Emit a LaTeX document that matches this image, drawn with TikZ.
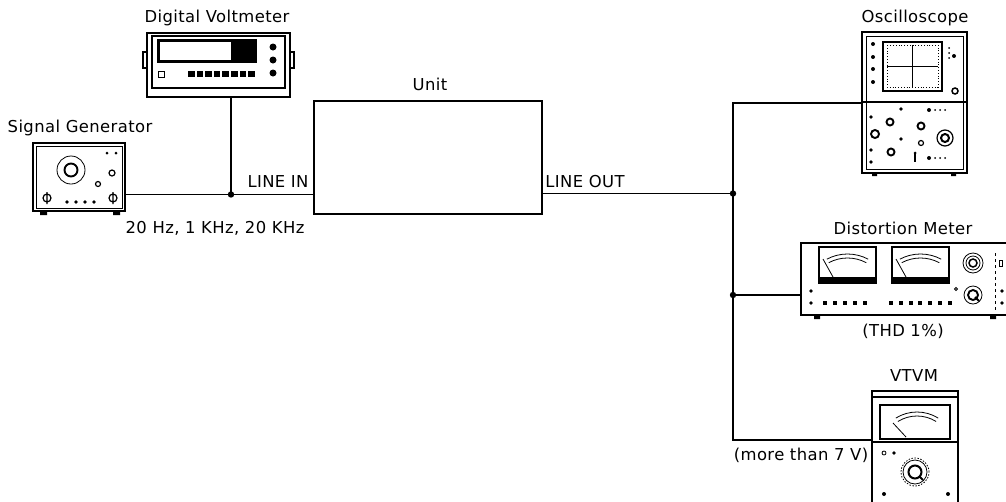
\documentclass[tikz,border=0pt]{standalone}
\usepackage{fontspec}
\setmainfont{DejaVu Sans}[LetterSpace=2.5]
\usetikzlibrary{positioning,calc}

\begin{document}
\begin{tikzpicture}[x=1pt,y=-1pt,
 	every node/.style={font=\fontsize{16.4}{18}\selectfont, inner sep=0pt},
 	wire/.style={line width=1.3pt},
 	case/.style={draw, line width=2pt, fill=white},
 	fine/.style={line width=0.8pt},
 	mid/.style={line width=1.2pt},
 	bold/.style={line width=1.9pt}]
 	\useasboundingbox (0,0) rectangle (1006,501);
 	% boxes
 	\node[case, minimum width=228pt, minimum height=113pt] (unit) at (428,157.5) {};
 	\node[case, minimum width=143pt, minimum height=64pt] (dvm) at (218.5,65) {};
 	\node[case, minimum width=92pt, minimum height=68pt] (siggen) at (79,177) {};
 	\node[case, minimum width=105pt, minimum height=141pt] (scope) at (914.5,102.5) {};
 	\node[case, minimum width=212pt, minimum height=72pt] (distm) at (907,279) {};
 	\node[case, minimum width=86pt, minimum height=120pt] (vtvm) at (915,451) {};
 	% wiring
 	\coordinate (jin) at (231,194.5);
 	\coordinate (jout) at (733,193.5);
 	\coordinate (jtop) at (733,103);
 	\coordinate (jdm) at (733,295);
 	\coordinate (jbot) at (733,440);
 	\draw[wire] (siggen.east |- jin) -- (jin) -- (unit.west |- jin);
 	\draw[wire] (jin |- dvm.south) -- (jin);
 	\draw[wire] (unit.east |- jout) -- (jout);
 	\draw[wire] (scope.west |- jtop) -| (jbot) -- (vtvm.west |- jbot);
 	\draw[wire] (jdm) -- (distm.west |- jdm);
 	\foreach \j in {jin,jout,jdm} \fill (\j) circle[radius=3.2pt];
 	% digital voltmeter
 	\draw[mid] (152,36) rectangle (285,88);
 	\draw[mid] (143,52) rectangle (147,68) (290,52) rectangle (294,68);
 	\fill (157,39) rectangle (257,63);
 	\fill[white] (160,42) rectangle (231,60);
 	\foreach \y in {47,60,73} \fill (273,\y) circle[radius=3.5pt];
 	\draw[fine] (158,71) rectangle (164,77);
 	\foreach \i in {0,...,7} \fill ({188+8.6*\i},71) rectangle +(6.5,6);
 	% signal generator
 	\draw[fine] (36,146) rectangle (122,208);
 	\fill (40,211) rectangle (47,215) (113,211) rectangle (120,215);
 	\draw[fine] (71,170) circle[radius=14pt];
 	\draw[bold] (71,170) circle[radius=6.5pt];
 	\draw[mid] (98,184) circle[radius=2.5pt] (112,173) circle[radius=3pt];
 	\fill (107,153) circle[radius=1.5pt] (116,153) circle[radius=1.5pt];
 	\foreach \x in {47,113} \draw[mid] (\x,198) circle[radius=4pt] (\x,192) -- (\x,204);
 	\foreach \x in {67,76,85,94} \fill (\x,202) circle[radius=1.8pt];
 	% oscilloscope
 	\draw[fine] (866,36) rectangle (963,169);
 	\draw[line width=1.5pt] (862,102) -- (967,102);
 	\draw[bold] (883,42) rectangle (942,91);
 	\draw[fine, dotted] (887,45) rectangle (938,87);
 	\draw[fine] (912.5,45) -- (912.5,87) (887,66) -- (938,66);
 	\foreach \y in {44,57,69,82} \fill (873,\y) circle[radius=2pt];
 	\foreach \y in {48,53,58} \fill (949,\y) circle[radius=1pt];
 	\fill (954,56) circle[radius=2pt];
 	\draw[line width=1.5pt] (955,91) circle[radius=3pt];
 	\foreach \p in {(890,122),(891,152),(921,126)} \draw[bold] \p circle[radius=3.5pt];
 	\draw[bold] (875,134) circle[radius=4pt];
 	\draw[mid] (921,143) circle[radius=2.5pt];
 	\draw[mid] (945,138) circle[radius=8pt];
 	\draw[line width=2pt] (945,138) circle[radius=4pt];
 	\foreach \p in {(871,117),(871,150),(871,162),(901,109),(901,139)} \fill \p circle[radius=1.8pt];
 	\foreach \y in {110,158} {
 		\fill (929,\y) circle[radius=2pt];
 		\foreach \x in {935,940,945} \fill (\x,\y) circle[radius=1pt];
 	}
 	\draw[mid] (915,153) -- (915,162);
 	\fill (915,153) circle[radius=1.5pt];
 	\fill (872,173) rectangle (877,176) (951,173) rectangle (956,176);
 	% distortion meter
 	\foreach \x in {819,892} {
 		\draw[mid] (\x,247) rectangle +(57,36);
 		\fill (\x,277) rectangle +(57,6);
 		\draw[fine] ([shift={(118:44pt)}]\x+28.5,298) arc[start angle=118, end angle=62, radius=44pt];
 		\draw[fine] ([shift={(118:40pt)}]\x+28.5,298) arc[start angle=118, end angle=62, radius=40pt];
 		\draw[fine] (\x+14,277) -- (\x+4,259);
 	}
 	\draw[fine] (973,263) circle[radius=10pt] (973,263) circle[radius=7pt];
 	\draw[line width=1.5pt] (973,263) circle[radius=4pt];
 	\draw[fine] (973,295) circle[radius=9pt];
 	\draw[bold] (973,295) circle[radius=5pt];
 	\draw[bold] (975,297) -- (979,301);
 	\draw[fine] (956,289) circle[radius=1.5pt];
 	\draw[fine, dashed] (995,253) -- (995,310);
 	\draw[fine] (999,260) rectangle (1002,266);
 	\foreach \p in {(811,291),(811,303),(1002,291),(1002,303)} \fill \p circle[radius=1.8pt];
 	\foreach \i in {0,...,4} \fill ({825+10*\i-2},301) rectangle +(4,4);
 	\foreach \i in {0,...,6} \fill ({891+9.8*\i-2},301) rectangle +(4,4);
 	\fill (814,315) rectangle (820,319) (990,315) rectangle (996,319);
 	% vtvm
 	\draw[mid] (872,397) -- (958,397);
 	\draw[bold] (880,405) rectangle (950,439);
 	\draw[line width=1.5pt] (872,442) -- (958,442);
 	\draw[fine] ([shift={(122:40pt)}]917,452) arc[start angle=122, end angle=58, radius=40pt];
 	\draw[fine] ([shift={(122:36pt)}]917,452) arc[start angle=122, end angle=58, radius=36pt];
 	\draw[fine] (906,437) -- (893,423);
 	\draw[fine, dash pattern=on 1.5pt off 1.5pt] (915,472) circle[radius=14pt];
 	\draw[fine] (915,472) circle[radius=12pt];
 	\draw[line width=2pt] (915,472) circle[radius=6.5pt];
 	\draw[line width=2pt] (919,476) -- (923,480);
 	\draw[fine] (884,453) circle[radius=2pt];
 	\fill (894,453) circle[radius=1.8pt];
 	\fill (884,494) circle[radius=2pt] (948,494) circle[radius=2pt];
 	% labels
 	\node (unitlbl) at (430,84) {Unit};
 	\node (dvmlbl) at (217,18) {Digital Voltmeter};
 	\node (genlbl) at (80,128) {Signal Generator};
 	\node (inlbl) at (278,182) {LINE IN};
 	\node (freqlbl) at (215,228) {20 Hz, 1 KHz, 20 KHz};
 	\node (outlbl) at (585,182) {LINE OUT};
 	\node (scopelbl) at (915,18) {Oscilloscope};
 	\node (dmlbl) at (903,228) {Distortion Meter};
 	\node (thdlbl) at (903,331) {(THD 1\%)};
 	\node (vtvmlbl) at (914,376) {VTVM};
 	\node (vlbl) at (801,455) {(more than 7 V)};
\end{tikzpicture}
\end{document}
